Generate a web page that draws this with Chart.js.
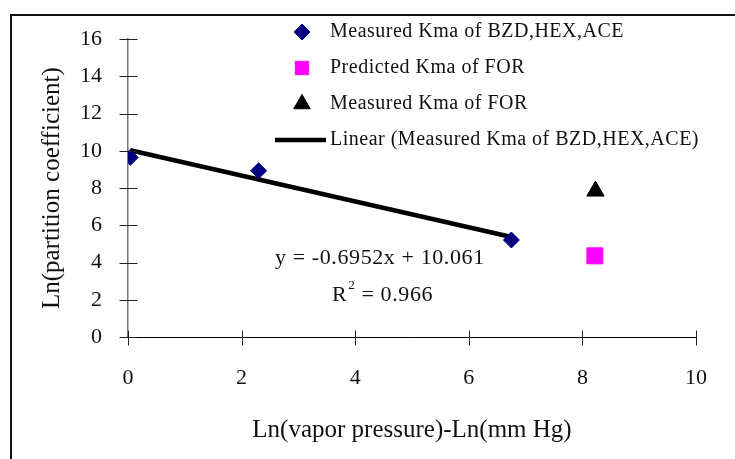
<!DOCTYPE html>
<html>
<head>
<meta charset="utf-8">
<script src="https://cdn.jsdelivr.net/npm/chart.js@4.4.1/dist/chart.umd.min.js"></script>
<style>
  html, body { margin: 0; padding: 0; background: #fff; overflow: hidden; }
  #wrap { position: relative; width: 735px; height: 459px; }
  #frame { position: absolute; left: 10px; top: 14px; width: 780px; height: 520px; border: 2px solid #111; box-sizing: border-box; }
  canvas { position: absolute; left: 0; top: 0; }
</style>
</head>
<body>
<div id="wrap">
  <div id="frame"></div>
  <canvas id="c" width="735" height="459"></canvas>
</div>
<script>
// ── data ──
const bzdX = [0.04, 2.30, 6.75];
const bzdY = [9.65, 8.93, 5.21];
const forPredX = [8.22];
const forPredY = [4.36];
const forMeasX = [8.23];
const forMeasY = [7.84];
const trendX = [0.04, 6.75];
const trendY = [10.03, 5.37];

const xTicks = [0, 2, 4, 6, 8, 10];
const yTicks = [0, 2, 4, 6, 8, 10, 12, 14, 16];

const SERIES = [
    'Measured Kma of BZD,HEX,ACE',
    'Predicted Kma of FOR',
    'Measured Kma of FOR',
    'Linear (Measured Kma of BZD,HEX,ACE)',
];
const EQ_TEXT = 'y = -0.6952x + 10.061';
const R2_TEXT = ' = 0.966';

const FONT = '"Liberation Serif", "Times New Roman", serif';
const pts = (xs, ys) => xs.map((x, i) => ({ x, y: ys[i] }));

// ══════════════════════════════════════════════════════════════
// plugins: crossing tick marks, in-plot legend, equation text
// ══════════════════════════════════════════════════════════════
const crossTicks = {
    id: 'crossTicks',
    afterDraw(chart) {
        const { ctx, scales: { x, y } } = chart;
        ctx.save();
        ctx.lineWidth = 1;
        ctx.strokeStyle = '#222';
        const x0 = Math.round(x.getPixelForValue(0)) + 0.5;
        yTicks.forEach(v => {
            const py = Math.round(y.getPixelForValue(v)) + 0.5;
            ctx.beginPath(); ctx.moveTo(x0 - 9, py); ctx.lineTo(x0 + 9, py); ctx.stroke();
        });
        const y0 = Math.round(y.getPixelForValue(0)) + 0.5;
        xTicks.forEach(v => {
            const px = Math.round(x.getPixelForValue(v)) + 0.5;
            ctx.beginPath(); ctx.moveTo(px, y0 - 7); ctx.lineTo(px, y0 + 8); ctx.stroke();
        });
        ctx.restore();
    },
};

const plotLegend = {
    id: 'plotLegend',
    afterDraw(chart) {
        const { ctx } = chart;
        const rows = [32, 68, 104, 140];
        ctx.save();
        ctx.font = '20px ' + FONT;
        ctx.letterSpacing = '0.5px';
        ctx.textBaseline = 'middle';
        chart.data.datasets.forEach((ds, i) => {
            const yy = rows[i];
            if (ds.showLine) {
                ctx.strokeStyle = ds.borderColor;
                ctx.lineWidth = ds.borderWidth;
                ctx.beginPath(); ctx.moveTo(275, yy); ctx.lineTo(326, yy); ctx.stroke();
            } else {
                ctx.fillStyle = ds.backgroundColor;
                ctx.strokeStyle = ds.borderColor;
                Chart.helpers.drawPoint(ctx, {
                    pointStyle: ds.pointStyle, radius: Math.min(ds.pointRadius, 9.5), rotation: 0, borderWidth: 1,
                }, 302, yy);
            }
            ctx.fillStyle = '#111';
            ctx.fillText(ds.label, 330, yy);
        });
        ctx.restore();
    },
};

const eqText = {
    id: 'eqText',
    afterDraw(chart) {
        const { ctx } = chart;
        ctx.save();
        ctx.fillStyle = '#111';
        ctx.textBaseline = 'middle';
        ctx.letterSpacing = '0.6px';
        ctx.font = '22px ' + FONT;
        ctx.fillText(EQ_TEXT, 275, 258);
        let px = 332;
        ctx.fillText('R', px, 295);
        px += ctx.measureText('R').width;
        ctx.font = '13px ' + FONT;
        ctx.fillText('2', px + 1, 286);
        px += ctx.measureText('2').width + 1;
        ctx.font = '22px ' + FONT;
        ctx.fillText(R2_TEXT, px, 295);
        ctx.restore();
    },
};

new Chart(document.getElementById('c'), {
    type: 'scatter',
    data: {
        datasets: [
            {
                label: SERIES[0], data: pts(bzdX, bzdY),
                pointStyle: 'rectRot', pointRadius: 8,
                backgroundColor: '#000080', borderColor: '#000080', borderWidth: 1,
            },
            {
                label: SERIES[1], data: pts(forPredX, forPredY),
                pointStyle: 'rect', pointRadius: 11.3,
                backgroundColor: '#ff00ff', borderColor: '#ff00ff', borderWidth: 1,
            },
            {
                label: SERIES[2], data: pts(forMeasX, forMeasY),
                pointStyle: 'triangle', pointRadius: 10,
                backgroundColor: '#000', borderColor: '#000', borderWidth: 1,
            },
            {
                label: SERIES[3], data: pts(trendX, trendY),
                showLine: true, pointRadius: 0,
                borderColor: '#000', borderWidth: 4.5, backgroundColor: '#000',
            },
        ],
    },
    options: {
        responsive: false,
        animation: false,
        layout: { padding: { left: 0, right: 35, top: 39, bottom: 0 } },
        plugins: { legend: { display: false }, tooltip: { enabled: false } },
        scales: {
            x: {
                type: 'linear', min: 0, max: 10,
                afterFit: s => { s.height = 122; },
                afterBuildTicks: s => { s.ticks = xTicks.map(v => ({ value: v })); },
                grid: { display: false, drawTicks: false },
                border: { display: true, color: '#000', width: 1 },
                ticks: { color: '#111', padding: 28, font: { family: FONT, size: 22 } },
                title: {
                    display: true, text: 'Ln(vapor pressure)-Ln(mm Hg)', color: '#111',
                    font: { family: FONT, size: 25 }, padding: { top: 0, bottom: 14 },
                },
            },
            y: {
                type: 'linear', min: 0, max: 16,
                afterFit: s => { s.width = 128; },
                afterBuildTicks: s => { s.ticks = yTicks.map(v => ({ value: v })); },
                grid: { display: false, drawTicks: false },
                border: { display: true, color: '#777', width: 1.5 },
                ticks: { color: '#111', padding: 26, font: { family: FONT, size: 22 } },
                title: {
                    display: true, text: 'Ln(partition coefficient)', color: '#111',
                    font: { family: FONT, size: 25 }, padding: { top: 37, bottom: 0 },
                },
            },
        },
    },
    plugins: [crossTicks, plotLegend, eqText],
});
</script>
</body>
</html>
